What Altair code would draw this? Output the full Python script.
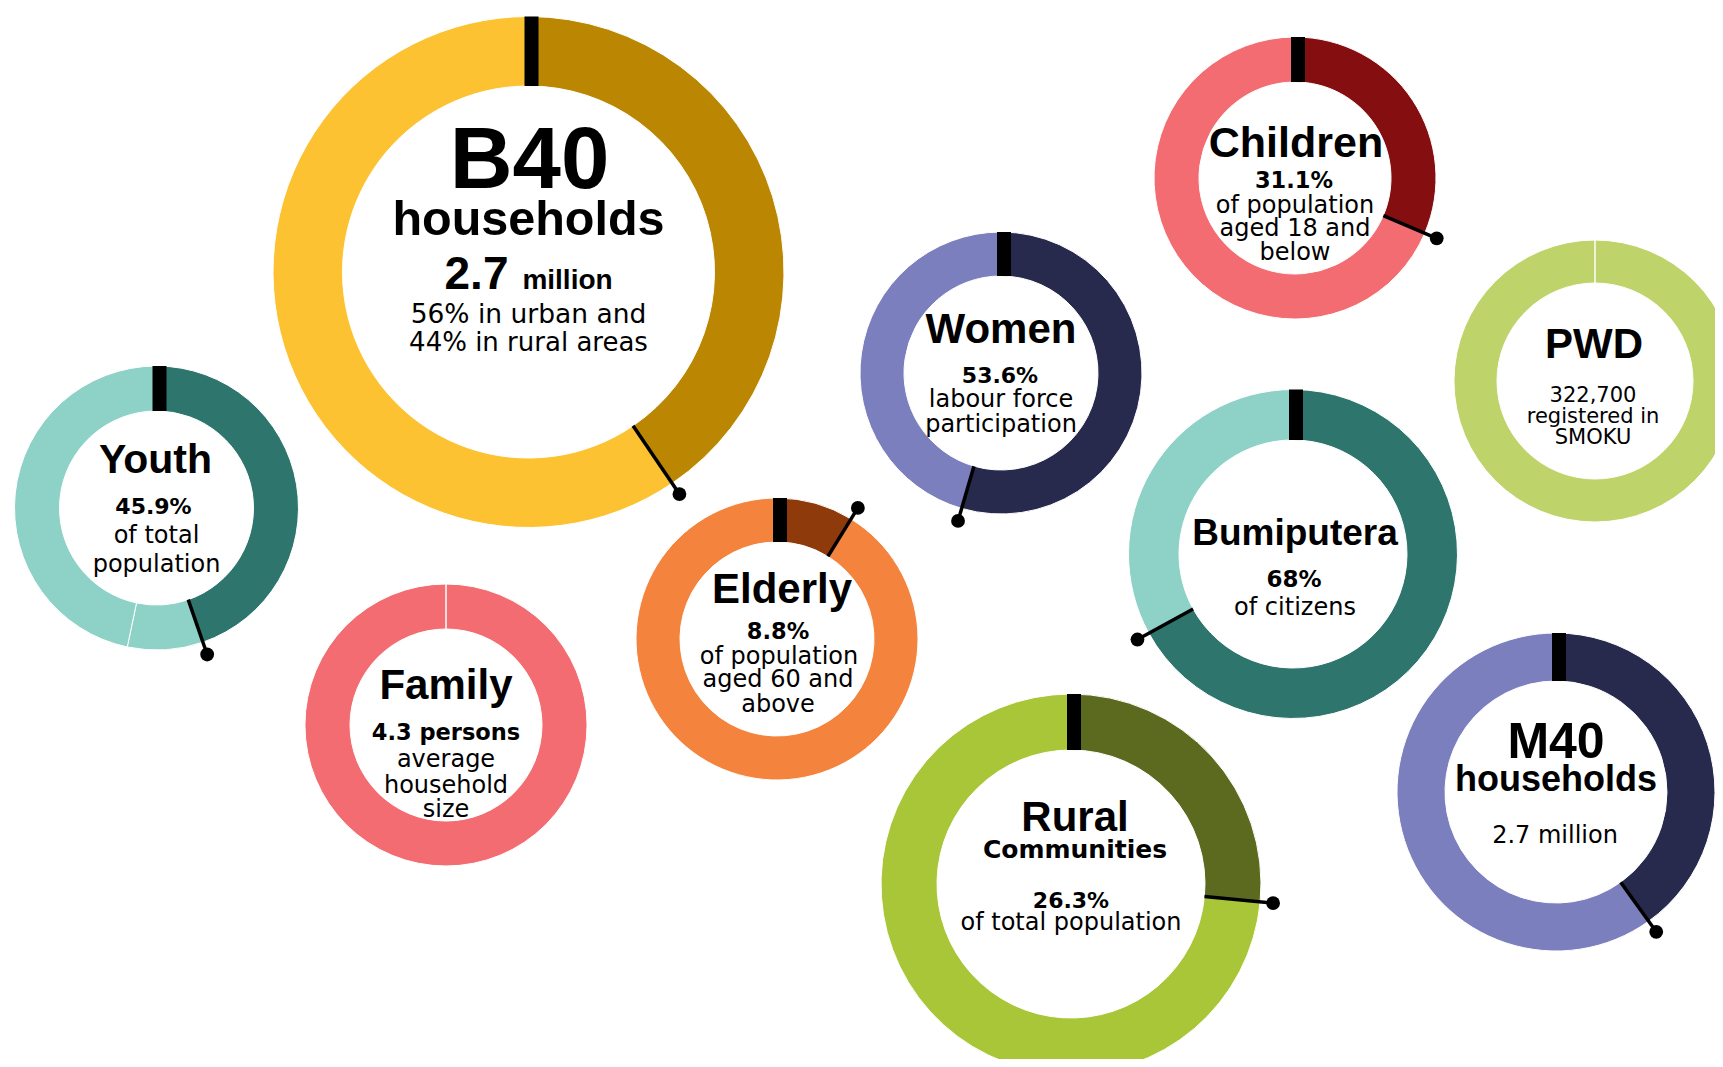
import altair as alt
import pandas as pd
import numpy as np

# ---------------- data ----------------
donuts = ["B40", "Youth", "Family", "Elderly", "Women", "Children", "PWD", "Bumiputera", "Rural", "M40"]

# segment shares, clockwise from 12 o'clock (first = highlighted share where present)
segments = [
    [0.405, 0.595],
    [0.447, 0.086, 0.467],
    [1.0],
    [0.088, 0.912],
    [0.545, 0.455],
    [0.314, 0.686],
    [1.0],
    [0.670, 0.330],
    [0.265, 0.735],
    [0.401, 0.599],
]
highlighted = [True, True, False, True, True, True, False, True, True, True]

dark_colors = ["#BB8703", "#2E766D", "#F36C71", "#8E3A0A", "#27294D",
               "#850E10", "#BED46A", "#2E766D", "#5C6A20", "#27294D"]
light_colors = ["#FDC232", "#8DD1C7", "#F36C71", "#F4843D", "#7B7FBD",
                "#F36C71", "#BED46A", "#8DD1C7", "#A8C637", "#7B7FBD"]

label_text = {
    "B40": ["B40", "households", "2.7", "million", "56% in urban and", "44% in rural areas"],
    "Youth": ["Youth", "45.9%", "of total", "population"],
    "Family": ["Family", "4.3 persons", "average", "household", "size"],
    "Elderly": ["Elderly", "8.8%", "of population", "aged 60 and", "above"],
    "Women": ["Women", "53.6%", "labour force", "participation"],
    "Children": ["Children", "31.1%", "of population", "aged 18 and", "below"],
    "PWD": ["PWD", "322,700", "registered in", "SMOKU"],
    "Bumiputera": ["Bumiputera", "68%", "of citizens"],
    "Rural": ["Rural", "Communities", "26.3%", "of total population"],
    "M40": ["M40", "households", "2.7 million"],
}
label_style = {
    "B40": ["title", "title", "title", "title", "body", "body"],
    "Youth": ["title", "strong", "body", "body"],
    "Family": ["title", "strong", "body", "body", "body"],
    "Elderly": ["title", "strong", "body", "body", "body"],
    "Women": ["title", "strong", "body", "body"],
    "Children": ["title", "strong", "body", "body", "body"],
    "PWD": ["title", "body", "body", "body"],
    "Bumiputera": ["title", "strong", "body"],
    "Rural": ["title", "strong", "strong", "body"],
    "M40": ["title", "title", "body"],
}

# ---------------- layout (page pixels) ----------------
OFF = 8
W, H = 1707, 1051
# centre x, centre y, outer radius, inner radius
geometry = {
    "B40": (528.5, 272, 255.5, 186),
    "Youth": (156.5, 508, 142, 97),
    "Family": (446, 725, 141, 96),
    "Elderly": (777, 639, 141, 97),
    "Women": (1001, 373, 141, 97),
    "Children": (1295, 178, 141, 96),
    "PWD": (1595, 381, 141, 98),
    "Bumiputera": (1293, 554, 164.5, 114),
    "Rural": (1071, 884, 190, 134),
    "M40": (1556, 792, 159, 111),
}
# (dx, dy of baseline, font size) for each label line
label_layout = {
    "B40": [(1, -84, 87), (0, -37, 48.5), (-52, 17, 46), (39, 17, 28), (0, 51, 26.5), (0, 78.5, 26)],
    "Youth": [(-1, -35, 41), (-3, 6, 22), (0, 35, 24), (0, 64, 24)],
    "Family": [(0, -26, 42), (0, 15, 22.5), (0, 42, 24), (0, 68, 24), (0, 92, 24)],
    "Elderly": [(5, -36, 42), (1, 0, 22.5), (2, 25, 24), (1, 48, 24), (1, 73, 24)],
    "Women": [(0, -30, 42), (-1, 10, 22), (0, 34, 24), (0, 59, 24)],
    "Children": [(1, -21, 43), (-1, 10, 22.5), (0, 35, 24), (0, 58, 24), (0, 82, 24)],
    "PWD": [(-1, -23, 42), (-2, 21, 21), (-2, 42, 21), (-2, 63, 21)],
    "Bumiputera": [(2, -9, 37), (1, 33, 23), (2, 61, 24)],
    "Rural": [(4, -53, 42), (4, -26, 25), (0, 24, 22), (0, 46, 24)],
    "M40": [(0, -34, 50), (0, -1, 36), (-1, 51, 24)],
}

# ---------------- tables ----------------
arc_rows, bar_rows, sep_rows, mark_rows, text_rows = [], [], [], [], []
for i, name in enumerate(donuts):
    cx, cy, R, r = geometry[name]
    cx, cy = cx - OFF, cy - OFF
    start = 0.0
    for j, s in enumerate(segments[i]):
        fill = dark_colors[i] if (highlighted[i] and j == 0) else light_colors[i]
        arc_rows.append(dict(name=name, cx=cx, cy=cy, R=R, r=r, t0=start, t1=start + s, fill=fill))
        start += s
    if highlighted[i]:
        bar_rows.append(dict(name=name, x=cx + 3, y=cy - R, y2=cy - r))
        ang = 2 * np.pi * segments[i][0]
        mark_rows.append(dict(
            name=name,
            x=cx + r * np.sin(ang), y=cy - r * np.cos(ang),
            x2=cx + (R + 13) * np.sin(ang), y2=cy - (R + 13) * np.cos(ang),
        ))
    else:
        sep_rows.append(dict(name=name, x=cx, y=cy - R, y2=cy - r))
    for t, st, (dx, dy, fs) in zip(label_text[name], label_style[name], label_layout[name]):
        text_rows.append(dict(name=name, text=t, style=st, x=cx + dx, y=cy + dy, fs=fs))

arc_df = pd.DataFrame(arc_rows)
bar_df = pd.DataFrame(bar_rows)
sep_df = pd.DataFrame(sep_rows)
mark_df = pd.DataFrame(mark_rows)
text_df = pd.DataFrame(text_rows)

X = lambda f: alt.X(f, scale=None, axis=None)
Y = lambda f: alt.Y(f, scale=None, axis=None)

arcs = alt.Chart(arc_df).mark_arc(stroke="white", strokeWidth=1).encode(
    x=X("cx:Q"),
    y=Y("cy:Q"),
    theta=alt.Theta("t0:Q", stack=None, scale=alt.Scale(domain=[0, 1], range=[0, 2 * np.pi])),
    theta2="t1:Q",
    radius=alt.Radius("R:Q", scale=None),
    radius2="r:Q",
    fill=alt.Fill("fill:N", scale=None),
)

bars = alt.Chart(bar_df).mark_rule(color="black", strokeWidth=14, strokeCap="butt").encode(
    x=X("x:Q"), y=Y("y:Q"), y2="y2:Q"
)
seps = alt.Chart(sep_df).mark_rule(color="white", strokeWidth=1.5).encode(
    x=X("x:Q"), y=Y("y:Q"), y2="y2:Q"
)
lines = alt.Chart(mark_df).mark_rule(color="black", strokeWidth=3.5).encode(
    x=X("x:Q"), y=Y("y:Q"), x2="x2:Q", y2="y2:Q"
)
dots = alt.Chart(mark_df).mark_circle(color="black", size=190, opacity=1).encode(
    x=X("x2:Q"), y=Y("y2:Q")
)

def text_layer(style, font, weight):
    return alt.Chart(text_df[text_df["style"] == style]).mark_text(
        font=font, fontWeight=weight, align="center", baseline="alphabetic", color="black"
    ).encode(
        x=X("x:Q"), y=Y("y:Q"), text="text:N", size=alt.Size("fs:Q", scale=None)
    )

titles = text_layer("title", "Liberation Sans", "bold")
strong = text_layer("strong", "DejaVu Sans", "bold")
body = text_layer("body", "DejaVu Sans", "normal")

chart = alt.layer(arcs, seps, bars, lines, dots, titles, strong, body).properties(
    width=W, height=H, autosize=alt.AutoSizeParams(type="none"), padding=0,
    background="white"
).configure_view(stroke=None)

chart.save("out.html", embed_options={"renderer": "svg", "actions": False})
